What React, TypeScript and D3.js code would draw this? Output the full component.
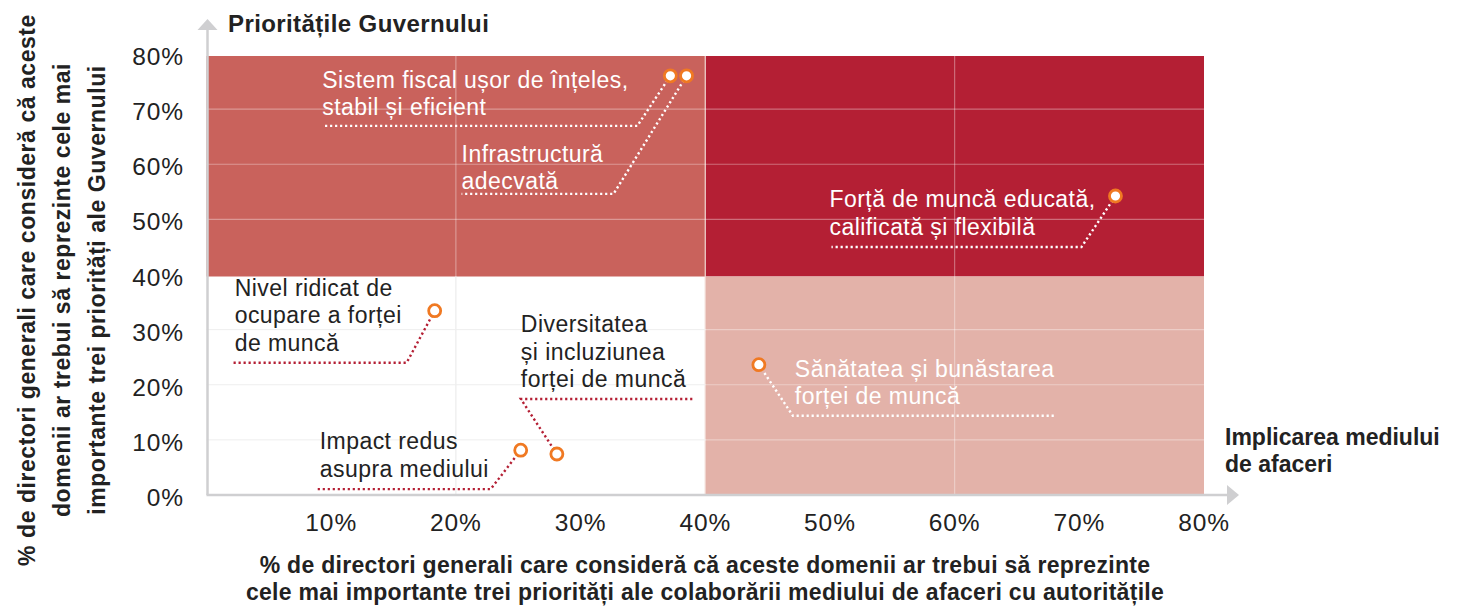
import React from "react";
import * as d3 from "d3";

const W = 1463;
const H = 606;

const xTicks = [10, 20, 30, 40, 50, 60, 70, 80];
const yTicks = [0, 10, 20, 30, 40, 50, 60, 70, 80];
const gridX = [20, 40, 60];
const gridY = [10, 20, 30, 50, 60, 70];

const names = [
  ["Sistem fiscal ușor de înțeles,", "stabil și eficient"],
  ["Infrastructură", "adecvată"],
  ["Forță de muncă educată,", "calificată și flexibilă"],
  ["Nivel ridicat de", "ocupare a forței", "de muncă"],
  ["Diversitatea", "și incluziunea", "forței de muncă"],
  ["Impact redus", "asupra mediului"],
  ["Sănătatea și bunăstarea", "forței de muncă"],
];
const xValues = [37.2, 38.5, 72.9, 18.3, 28.1, 25.2, 44.3];
const yValues = [76.4, 76.4, 54.6, 33.8, 7.8, 8.5, 24.0];

// annotation layout (pixel offsets relative to the point)
const layout = [
  { ex: -33, ey: 50, endX: -348, lx: -348, ly: 12, light: true },
  { ex: -73, ey: 118, endX: -225, lx: -225, ly: 86, light: true },
  { ex: -34, ey: 51, endX: -284, lx: -286, ly: 11, light: true },
  { ex: -28, ey: 52, endX: -202, lx: -200, ly: -15, light: false },
  { ex: -36, ey: -55, endX: 138, lx: -36, ly: -122, light: false },
  { ex: -30, ey: 39, endX: -203, lx: -201, ly: -1, light: false },
  { ex: 34, ey: 51, endX: 296, lx: 36, ly: 12, light: true },
];

const yTitle = [
  "% de directori generali care consideră că aceste",
  "domenii ar trebui să reprezinte cele mai",
  "importante trei priorități ale Guvernului",
];
const xTitle = [
  "% de directori generali care consideră că aceste domenii ar trebui să reprezinte",
  "cele mai importante trei priorități ale colaborării mediului de afaceri cu autoritățile",
];

const FONT = "'Liberation Sans', Arial, Helvetica, sans-serif";

export default function App() {
  const x = d3.scaleLinear().domain([0, 80]).range([206.5, 1204]);
  const y = d3.scaleLinear().domain([0, 80]).range([497, 56]);
  const x0 = x(0), x40 = x(40), x80 = x(80);
  const y0 = y(0), y40 = y(40), y80 = y(80);
  const dotted = "2.2 2.8";

  return (
    <svg width={W} height={H} style={{ position: "absolute", left: 0, top: 0 }} fontFamily={FONT}>
      <rect width={W} height={H} fill="#fff" />
      {/* quadrants */}
      <rect x={x0} y={y80} width={x40 - x0} height={y40 - y80} fill="#c9625c" />
      <rect x={x40} y={y80} width={x80 - x40} height={y40 - y80} fill="#b41f34" />
      <rect x={x40} y={y40} width={x80 - x40} height={y0 - 3 - y40} fill="#e3b2a9" />
      {/* grid */}
      {gridX.map((g) => (
        <line key={"gx" + g} x1={x(g)} x2={x(g)} y1={y80} y2={y0 - 3}
          stroke={g === 40 ? "#f0d6d0" : "#ffffff"} strokeOpacity={g === 40 ? 1 : 0.35} strokeWidth={1.2} />
      ))}
      {gridY.map((g) => (
        <line key={"gy" + g} x1={x0} x2={x80} y1={y(g) - 2} y2={y(g) - 2}
          stroke="#ffffff" strokeOpacity={0.35} strokeWidth={1.2} />
      ))}
      {/* faint grid on white quadrant */}
      {gridX.filter((g) => g < 40).map((g) => (
        <line key={"wx" + g} x1={x(g)} x2={x(g)} y1={y40} y2={y0 - 3} stroke="#e8e8e8" strokeWidth={1} />
      ))}
      {gridY.filter((g) => g < 40).map((g) => (
        <line key={"wy" + g} x1={x0} x2={x40} y1={y(g) - 2} y2={y(g) - 2} stroke="#eeeeee" strokeWidth={1} />
      ))}
      {/* axes */}
      <line x1={x0 + 1} x2={x0 + 1} y1={y0 - 2} y2={30} stroke="#cfcfd1" strokeWidth={2.5} />
      <polygon points={`${x0 + 1 - 10},${30} ${x0 + 1 + 10},${30} ${x0 + 1},${19}`} fill="#cfcfd1" />
      <line x1={x0} x2={1227} y1={y0 - 2} y2={y0 - 2} stroke="#cfcfd1" strokeWidth={2.5} />
      <polygon points={`1227,${y0 - 12} 1227,${y0 + 8} 1239,${y0 - 2}`} fill="#cfcfd1" />
      {/* ticks */}
      {yTicks.map((t) => (
        <text key={"yt" + t} x={184} y={y(t) + 9} textAnchor="end" fontSize={24.5} letterSpacing={0.9} fill="#222">{t}%</text>
      ))}
      {xTicks.map((t) => (
        <text key={"xt" + t} x={x(t)} y={531} textAnchor="middle" fontSize={24.5} letterSpacing={0.9} fill="#222">{t}%</text>
      ))}
      {/* titles */}
      <text x={228} y={32} fontSize={24} letterSpacing={0.4} fontWeight="bold" fill="#222">Prioritățile Guvernului</text>
      <text x={1225} y={445} fontSize={23} fontWeight="bold" fill="#222">
        <tspan x={1225}>Implicarea mediului</tspan>
        <tspan x={1225} dy={27}>de afaceri</tspan>
      </text>
      <text fontSize={23} letterSpacing={0.3} fontWeight="bold" fill="#222" textAnchor="middle">
        {xTitle.map((l, i) => (
          <tspan key={i} x={705} y={573 + i * 27}>{l}</tspan>
        ))}
      </text>
      <g transform="translate(0,290) rotate(-90)">
        <text fontSize={23} letterSpacing={0.55} fontWeight="bold" fill="#222" textAnchor="middle">
          {yTitle.map((l, i) => (
            <tspan key={i} x={0} y={35 + i * 35}>{l}</tspan>
          ))}
        </text>
      </g>
      {/* annotations */}
      {names.map((nm, i) => {
        const px = x(xValues[i]);
        const py = y(yValues[i]);
        const L = layout[i];
        const col = L.light ? "#ffffff" : "#b41f34";
        const ex = px + L.ex, ey = py + L.ey;
        return (
          <g key={"a" + i}>
            <path d={`M${px},${py}L${ex},${ey}L${px + L.endX},${ey}`} fill="none" stroke={col}
              strokeWidth={2.4} strokeDasharray={dotted} />
            <text fontSize={23} letterSpacing={0.45} fill={L.light ? "#ffffff" : "#222"}>
              {nm.map((l, j) => (
                <tspan key={j} x={px + L.lx} y={py + L.ly + j * 27.5}>{l}</tspan>
              ))}
            </text>
          </g>
        );
      })}
      {names.map((nm, i) => (
        <circle key={"c" + i} cx={x(xValues[i])} cy={y(yValues[i])} r={6} fill="#fff" stroke="#f07922" strokeWidth={2.8} />
      ))}
    </svg>
  );
}
